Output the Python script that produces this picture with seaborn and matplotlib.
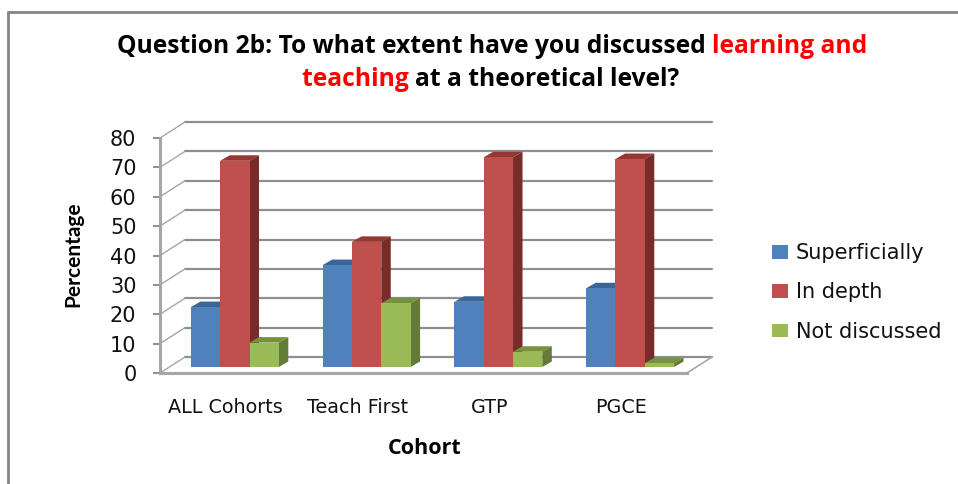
import pandas as pd
import matplotlib
matplotlib.use("Agg")
import matplotlib.pyplot as plt
import matplotlib.transforms as mtrans
from matplotlib.lines import Line2D
from matplotlib.patches import Polygon
import seaborn as sns

cohorts = ["ALL Cohorts", "Teach First", "GTP", "PGCE"]
series_names = ["Superficially", "In depth", "Not discussed"]
superficially = [20.4, 34.7, 22.2, 26.8]
in_depth = [70.2, 42.6, 71.4, 70.8]
not_discussed = [8.3, 21.7, 5.2, 1.3]
y_ticks = [0, 10, 20, 30, 40, 50, 60, 70, 80]

front_colors = ["#4F81BD", "#C0504D", "#9BBB59"]
top_colors = ["#3B6597", "#953735", "#76923C"]
side_colors = ["#385D8A", "#772C2A", "#647A38"]
grid_color = "#8E8E8E"

W, H = 958, 484
L, R, T, B = 160, 687, 138, 373

rows = []
for name, vals in zip(series_names, [superficially, in_depth, not_discussed]):
    for c, v in zip(cohorts, vals):
        rows.append({"Cohort": c, "Series": name, "Percentage": v})
df = pd.DataFrame(rows)

sns.set_style("white")
plt.rcParams["font.family"] = ["DejaVu Sans"]
fig = plt.figure(figsize=(W / 100, H / 100), dpi=100)
ax = fig.add_axes([L / W, 1 - B / H, (R - L) / W, (B - T) / H])
ax.patch.set_visible(False)

sns.barplot(data=df, x="Cohort", y="Percentage", hue="Series", hue_order=series_names,
            palette=front_colors, width=0.667, gap=0, saturation=1, linewidth=0, ax=ax, zorder=5)
ax.set_xlim(-0.5, 3.5)
ax.set_ylim(0, 80)


def shift(px, py):
    return ax.transData + mtrans.ScaledTranslation(px / 100, py / 100, fig.dpi_scale_trans)


# back wall and side wall
back = shift(25, 16)
for t in y_ticks:
    ax.plot([-0.5, 3.5], [t, t], color=grid_color, lw=1.6, transform=back, clip_on=False, zorder=1)
    ax.plot([-0.5, -0.5 + 25 * 4 / (R - L)], [t, t + 16 * 80 / (B - T)], color="#A6A6A6", lw=1,
            clip_on=False, zorder=1)
ax.plot([3.5, 3.5 + 25 * 4 / (R - L)], [0, 16 * 80 / (B - T)], color="#A6A6A6", lw=1.2,
        clip_on=False, zorder=1)

# 3d faces of the bars
sx, sy = 9, 6
dx = 9.5 * 4 / (R - L)
dy = 5.5 * 80 / (B - T)
bar_shift = shift(sx, sy)
for i, cont in enumerate(ax.containers):
    for bar in cont:
        x0, w, h = bar.get_x(), bar.get_width(), bar.get_height()
        z = 5 + i * 2
        top = Polygon([(x0, h), (x0 + dx, h + dy), (x0 + w + dx, h + dy), (x0 + w, h)],
                      fc=top_colors[i], ec="none", transform=bar_shift, clip_on=False, zorder=z)
        side = Polygon([(x0 + w, 0), (x0 + w + dx, dy), (x0 + w + dx, h + dy), (x0 + w, h)],
                       fc=side_colors[i], ec="none", transform=bar_shift, clip_on=False, zorder=z)
        ax.add_patch(top)
        ax.add_patch(side)
        bar.set_transform(bar_shift)
        bar.set_clip_on(False)
        bar.set_zorder(z + 1)

# axes styling
sns.despine(ax=ax, top=True, right=True)
for s in ["left", "bottom"]:
    ax.spines[s].set_color("#A6A6A6")
    ax.spines[s].set_linewidth(2.2)
    ax.spines[s].set_zorder(2)
ax.set_yticks(y_ticks)
ax.tick_params(axis="y", length=5, width=1.4, color="#8E8E8E", labelsize=15, labelcolor="#111111", pad=12, left=True)
ax.tick_params(axis="x", length=0, labelsize=13.8, labelcolor="#111111", pad=18)
ax.set_xlabel("")
ax.set_ylabel("")

fig.text(73 / W, 1 - 254 / H, "Percentage", rotation=90, ha="center", va="center",
         fontsize=15, fontweight="bold", family="Lato", color="black")
fig.text(425 / W, 1 - 449 / H, "Cohort", ha="center", va="center",
         fontsize=15.5, fontweight="bold", family="Open Sans", color="black")

# legend
handles, labels = ax.get_legend_handles_labels()
ax.legend(handles, labels, frameon=False, fontsize=15, labelcolor="#111111", loc="upper left",
          bbox_to_anchor=(765 / W, 1 - 236 / H), bbox_transform=fig.transFigure,
          labelspacing=0.92, handlelength=0.75, handleheight=0.6, handletextpad=0.38,
          borderpad=0.35, borderaxespad=0)

# outer frame
fig.add_artist(Line2D([8 / W, 8 / W], [0, 1 - 12 / H], color="#858585", lw=2))
fig.add_artist(Line2D([8 / W, 1], [1 - 12 / H, 1 - 12 / H], color="#858585", lw=2))

# title, in coloured runs
title_kw = dict(fontsize=17.7, fontweight="bold", family="Open Sans", va="baseline")
renderer = fig.canvas.get_renderer()


def title_line(x_px, y_px, runs):
    x = x_px
    for txt, col in runs:
        t = fig.text(x / W, 1 - y_px / H, txt, color=col, **title_kw)
        x = t.get_window_extent(renderer).x1


title_line(117, 53, [("Question 2b: To what extent have you discussed ", "black"), ("learning and", "red")])
title_line(302, 86, [("teaching ", "red"), ("at a theoretical level?", "black")])

fig.savefig("out.png", dpi=100)
